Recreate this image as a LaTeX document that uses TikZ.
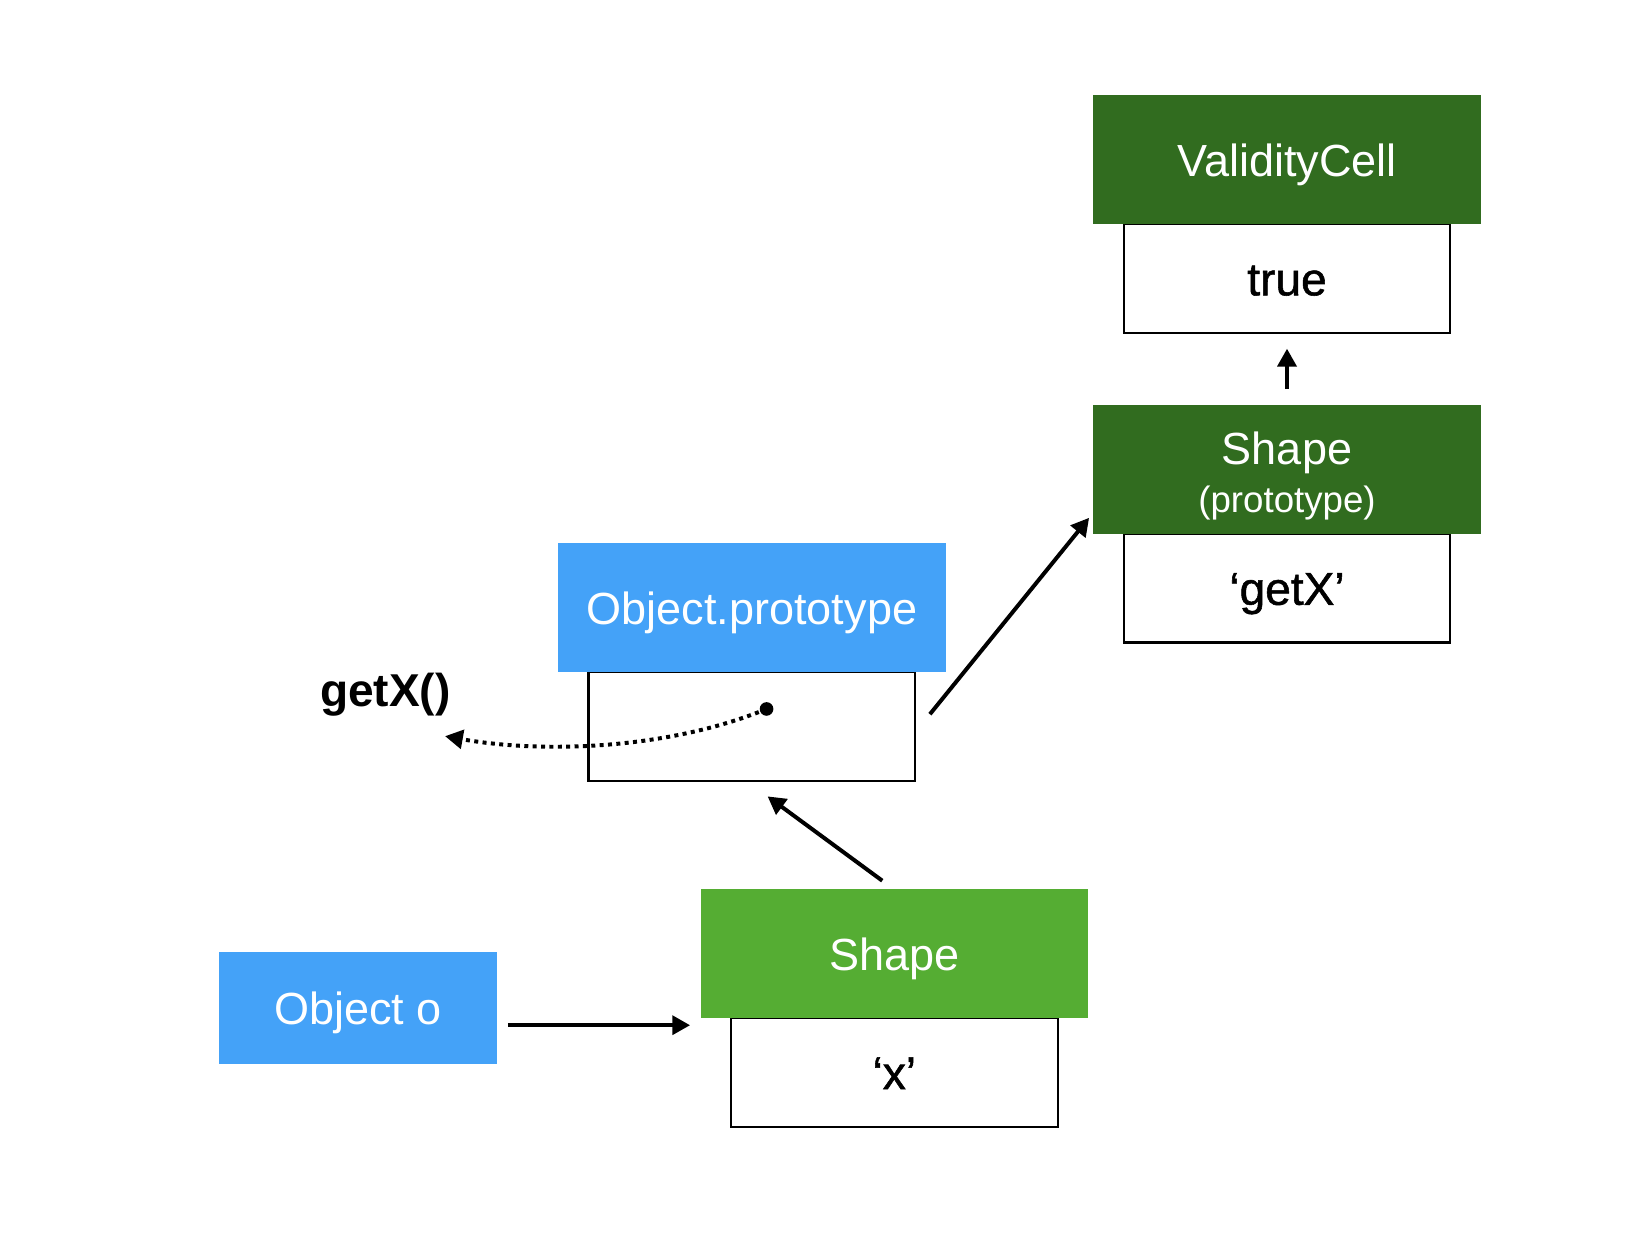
\documentclass[tikz,border=0pt]{standalone}
\usepackage{fontspec}
\setmainfont{Liberation Sans}
\newfontfamily\cellfont{Liberation Sans}[FakeBold=1.2]
\usetikzlibrary{arrows.meta, backgrounds, positioning}

\definecolor{darkgreen}{HTML}{316C1F}
\definecolor{lightgreen}{HTML}{55AD33}
\definecolor{skyblue}{HTML}{44A2F8}

\begin{document}
\begin{tikzpicture}[
            x=1pt, y=-1pt,
    		background rectangle/.style={fill=white},
    		show background rectangle,
            inner frame sep=0pt,
            node distance = 0pt
        ]

        \tikzstyle{head}=[
            shape=rectangle,
            minimum width=370,
            minimum height=123,
            inner sep=0pt,
            outer sep=0pt,
            text=white,
            text height=32pt,
            text depth=0pt,
            font=\fontsize{43}{50}\selectfont
        ]
        \tikzstyle{cell}=[
            shape=rectangle,
            draw,
            line width=2pt,
            minimum width=312,
            minimum height=104,
            inner sep=0pt,
            outer sep=0pt,
            text height=32pt,
            text depth=0pt,
            font=\cellfont\fontsize{44}{50}\selectfont
        ]
        \tikzstyle{arr}=[-{Triangle[length=17pt,width=18pt]}, line width=3.8pt]
        \tikzstyle{dots}=[-{Triangle[length=17pt,width=18pt]}, line width=3.8pt, dash pattern=on 3.8pt off 4.2pt]

        \useasboundingbox (0,0) rectangle (1568,1199.4);

		\node[cell] (valid) at (1229,266) {true};
		\node[head, fill=darkgreen] (validh) [above=of valid] {ValidityCell};
		\node[cell] (getx) at (1229,561.5) {‘getX’};
		\node[head, fill=darkgreen, align=center, text height=, text depth=] (proto) [above=of getx] {\rule{0pt}{45pt}Shape\\[-4pt]{\fontsize{35}{40}\selectfont (prototype)}};
		\node[cell] (opcell) at (718,693.5) {};
		\node[head, fill=skyblue] (objproto) [above=of opcell] {Object.prototype};
		\node[cell] (xcell) at (854,1024) {‘x’};
		\node[head, fill=lightgreen] (shape) [above=of xcell] {Shape};
		\node[head, fill=skyblue, minimum width=266, minimum height=107] (obj) at (342,962.5) {Object o};
		\node[font=\fontsize{44}{50}\selectfont\bfseries] (getxfn) at (368,663) {getX()};

        \coordinate (dot) at ([xshift=14pt,yshift=16.5pt]opcell.center);
        \coordinate (tip) at (425,703);

        \path[arr] ([yshift=15pt]proto.north) edge node {} ([yshift=-15pt]valid.south);
        \path[arr] ([xshift=14pt,yshift=11.5pt]opcell.east) edge node {} ([xshift=-4pt,yshift=15pt]proto.south west);
        \path[arr] ([xshift=-11.5pt,yshift=8pt]shape.north) edge node {} ([xshift=15pt,yshift=-15pt]opcell.south);
        \path[arr] ([xshift=10pt,yshift=-16.5pt]obj.east) edge node {} ([xshift=-10pt,yshift=-7pt]shape.south west);

        \fill (dot) circle[radius=6.5];
        \draw[dots] (dot) .. controls +(-92,38) and +(95,17) .. (tip);
    \end{tikzpicture}
\end{document}
